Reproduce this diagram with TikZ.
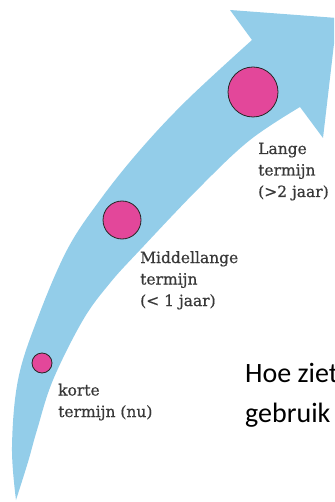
\documentclass[tikz,border=0pt]{standalone}
\usepackage{fontspec}
\setmainfont{DejaVu Serif}
\newfontfamily\slabfont[FakeBold=0.6]{DejaVu Serif}
\newfontfamily\calib{Carlito}
\definecolor{arrowblue}{HTML}{93CDE9}
\definecolor{dotpink}{HTML}{E3479A}
\definecolor{labelgray}{HTML}{383838}
\begin{document}
\begin{tikzpicture}[x=1pt,y=-1pt,
  dot/.style={circle, fill=dotpink, draw=black!85, line width=0.8pt, inner sep=0pt},
  lbl/.style={anchor=base west, align=left, inner sep=0pt, text=labelgray,
    font=\slabfont\fontsize{15.5}{21.5}\selectfont},
  question/.style={anchor=base west, align=left, inner sep=0pt, text=black,
    font=\calib\fontsize{28}{39.5}\selectfont}]
\useasboundingbox (0,0) rectangle (334,502);
\clip (0,0) rectangle (334,502);
\fill[arrowblue]
  plot[smooth, tension=0.6] coordinates {(16,500) (12,447) (18,380) (37,320) (67,250) (100,200) (140,150) (187,100) (252,40)}
  -- (230,10) -- (337,18) -- (323,138) -- (300,107)
  -- plot[smooth, tension=0.6] coordinates {(300,107) (250,140) (200,187) (140,250) (110,283) (83,320) (53,380) (37,430) (28,462) (16,500)}
  -- cycle;
\node[dot, minimum size=50pt] (dotlong) at (253,92) {};
\node[dot, minimum size=38pt] (dotmid) at (122,220) {};
\node[dot, minimum size=20pt] (dotshort) at (42,363) {};
\node[lbl] (lblong) at (258,197) {Lange\\termijn\\(>2 jaar)};
\node[lbl] (lblmid) at (140,306) {Middellange\\termijn\\(< 1 jaar)};
\node[lbl] (lblshort) at (58,417) {korte\\termijn (nu)};
\node[question] (q) at (245,422) {Hoe ziet\\gebruik};
\end{tikzpicture}
\end{document}
